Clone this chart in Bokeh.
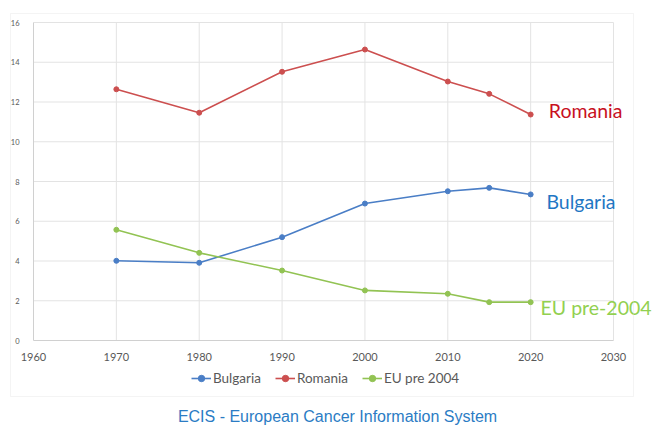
from bokeh.plotting import figure
from bokeh.models import (Legend, LegendItem, Label, BoxAnnotation, FixedTicker,
                          ColumnDataSource)
from bokeh.embed import file_html
from bokeh.resources import INLINE

# Years and values per series
years = [1970, 1980, 1990, 2000, 2010, 2015, 2020]
bulgaria = [4.01, 3.91, 5.20, 6.89, 7.51, 7.68, 7.35]
romania = [12.64, 11.46, 13.52, 14.64, 13.03, 12.41, 11.37]
eu_pre_2004 = [5.57, 4.41, 3.52, 2.52, 2.35, 1.93, 1.93]

x_ticks = [1960, 1970, 1980, 1990, 2000, 2010, 2020, 2030]
y_ticks = [0, 2, 4, 6, 8, 10, 12, 14, 16]

series = [
    ("Bulgaria", bulgaria, "#4a7ec6"),
    ("Romania", romania, "#cc4f4f"),
    ("EU pre 2004", eu_pre_2004, "#92c353"),
]

W, H = 653, 425
# plot-area geometry in pixels: the 1960..2030 x 0..16 box sits inside the canvas
left_px, right_px, top_px, bottom_px = 33, 613, 22, 340
xs = (x_ticks[-1] - x_ticks[0]) / (right_px - left_px)
ys = (y_ticks[-1] - y_ticks[0]) / (bottom_px - top_px)
x_range = (x_ticks[0] - left_px * xs, x_ticks[-1] + (W - right_px) * xs)
y_range = (y_ticks[0] - (H - bottom_px) * ys, y_ticks[-1] + top_px * ys)

p = figure(width=W, height=H, x_range=x_range, y_range=y_range,
           output_backend="svg", toolbar_location=None,
           min_border=0)
p.outline_line_color = None
p.background_fill_color = "white"
p.border_fill_color = "white"
p.xgrid.grid_line_color = None
p.ygrid.grid_line_color = None

# axes pinned onto the data box
p.xaxis.fixed_location = y_ticks[0]
p.yaxis.fixed_location = x_ticks[0]
p.xaxis.bounds = (x_ticks[0], x_ticks[-1])
p.yaxis.bounds = (y_ticks[0], y_ticks[-1])
p.xaxis.ticker = FixedTicker(ticks=x_ticks)
p.yaxis.ticker = FixedTicker(ticks=y_ticks)
for ax in (p.xaxis, p.yaxis):
    ax.axis_line_color = "#d0d0d0"
    ax.major_tick_line_color = None
    ax.minor_tick_line_color = None
    ax.major_label_text_color = "#595959"
    ax.major_label_text_font = "Lato"
p.xaxis.major_label_text_font_size = "11px"
p.yaxis.major_label_text_font_size = "7.5px"
p.xaxis.major_label_standoff = 6
p.yaxis.major_label_standoff = 8

# grid lines limited to the data box
grid_col = "#e3e3e3"
p.segment(x0=x_ticks[0], x1=x_ticks[-1], y0=y_ticks[1:], y1=y_ticks[1:],
          line_color=grid_col, line_width=1)
p.segment(x0=x_ticks[1:], x1=x_ticks[1:], y0=y_ticks[0], y1=y_ticks[-1],
          line_color=grid_col, line_width=1)

items = []
for name, vals, col in series:
    src = ColumnDataSource(dict(x=years, y=vals))
    ln = p.line("x", "y", source=src, line_color=col, line_width=1.6)
    pt = p.scatter("x", "y", source=src, size=5, fill_color=col, line_color=col)
    items.append(LegendItem(label=name, renderers=[ln, pt]))

legend = Legend(items=items, orientation="horizontal", location=(191, 39),
                label_text_font="Lato", label_text_font_size="13.5px",
                label_text_color="#595959", glyph_width=20, glyph_height=16,
                spacing=14, label_standoff=2, background_fill_alpha=0,
                border_line_color=None, padding=0, margin=0)
p.add_layout(legend, "center")

# Series names beside the line ends
side_labels = [
    ("Romania", 2022.2, 11.57, "#c8101e"),
    ("Bulgaria", 2021.9, 6.99, "#1f77c4"),
    ("EU pre-2004", 2021.2, 1.66, "#92d050"),
]
for txt, lx, ly, col in side_labels:
    p.add_layout(Label(x=lx, y=ly, text=txt, text_color=col, text_font="Lato",
                       text_font_size="19.5px", text_baseline="middle"))

# Chart area border
p.add_layout(BoxAnnotation(left=10, right=633, top=H - 13, bottom=H - 396,
                           left_units="screen", right_units="screen",
                           top_units="screen", bottom_units="screen",
                           fill_alpha=0, line_color="#d9d9d9", line_width=1))

p.add_layout(Label(x=337, y=H - 416, x_units="screen", y_units="screen",
                   text="ECIS - European Cancer Information System",
                   text_color="#2b7cc4", text_font="Liberation Sans",
                   text_font_size="16px", text_align="center",
                   text_baseline="middle"))

open("out.html", "w").write(file_html(p, INLINE))
